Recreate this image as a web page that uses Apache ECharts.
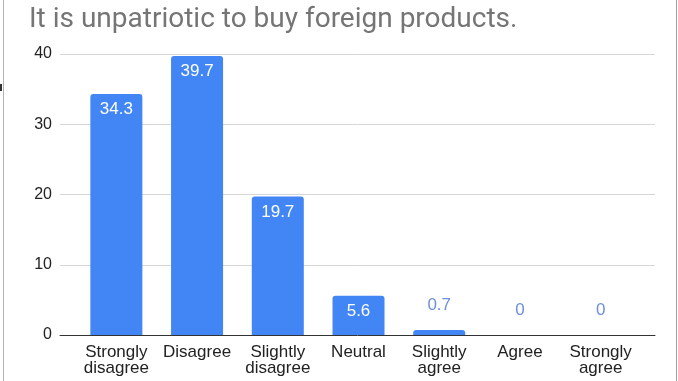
<!DOCTYPE html>
<html>
<head>
<meta charset="utf-8">
<script src="https://cdn.jsdelivr.net/npm/echarts@6/dist/echarts.min.js"></script>
<style>
html,body{margin:0;padding:0;background:#fff;}
#chart{width:678px;height:381px;}
</style>
</head>
<body>
<div id="chart"></div>
<script>
const titleText = 'It is unpatriotic to buy foreign products.';
const categories = ['Strongly\ndisagree', 'Disagree', 'Slightly\ndisagree', 'Neutral', 'Slightly\nagree', 'Agree', 'Strongly\nagree'];
const values = [34.3, 39.7, 19.7, 5.6, 0.7, 0, 0];
const yMin = 0, yMax = 40, yInterval = 10;

const barColor = '#4285f4';
const seriesData = values.map(v => {
  const inside = v >= 5;
  return {
    value: v,
    label: inside
      ? { position: 'insideTop', distance: 7, color: '#ffffff' }
      : { position: 'top', distance: 16, color: '#6d8fdc' }
  };
});

const chart = echarts.init(document.getElementById('chart'), null, {renderer: 'canvas'});
chart.setOption({
  animation: false,
  backgroundColor: '#ffffff',
  title: {
    text: titleText,
    left: 24, top: 1,
    textStyle: { fontFamily: 'Roboto', fontSize: 28, fontWeight: 'normal', color: '#757575' }
  },
  graphic: [
    { type: 'line', shape: { x1: 3.5, y1: 0, x2: 3.5, y2: 381 }, style: { stroke: '#b5b5b5', lineWidth: 1 } },
    { type: 'line', shape: { x1: 676.5, y1: 0, x2: 676.5, y2: 381 }, style: { stroke: '#a0a0a0', lineWidth: 1 } },
    { type: 'rect', shape: { x: 0, y: 84, width: 2, height: 7 }, style: { fill: '#333' } }
  ],
  grid: [
    { left: 60, right: 23, top: 54, bottom: 46 },
    { left: 76, right: 37, top: 54, bottom: 46 }
  ],
  xAxis: [
    { type: 'value', gridIndex: 0, min: 0, max: 1,
      axisLine: { show: true, onZero: false, lineStyle: { color: '#333333', width: 1 } },
      axisTick: { show: false }, axisLabel: { show: false }, splitLine: { show: false } },
    { type: 'category', gridIndex: 1, data: categories,
      axisLine: { show: false }, axisTick: { show: false },
      axisLabel: { interval: 0, margin: 9, fontFamily: 'Liberation Sans', fontSize: 17, lineHeight: 16, color: '#222222' } }
  ],
  yAxis: [
    { type: 'value', gridIndex: 0, min: yMin, max: yMax, interval: yInterval,
      axisLine: { show: false }, axisTick: { show: false },
      axisLabel: { margin: 8, fontFamily: 'Liberation Sans', fontSize: 16, color: '#222222' },
      splitLine: { lineStyle: { color: '#d6d6d6', width: 1 } } },
    { type: 'value', gridIndex: 1, min: yMin, max: yMax, interval: yInterval, show: false,
      splitLine: { show: false } }
  ],
  series: [{
    type: 'bar',
    xAxisIndex: 1, yAxisIndex: 1,
    data: seriesData,
    barWidth: 52,
    itemStyle: { color: barColor, borderRadius: [3, 3, 0, 0] },
    label: { show: true, fontFamily: 'Liberation Sans', fontSize: 17 }
  }]
});
</script>
</body>
</html>
